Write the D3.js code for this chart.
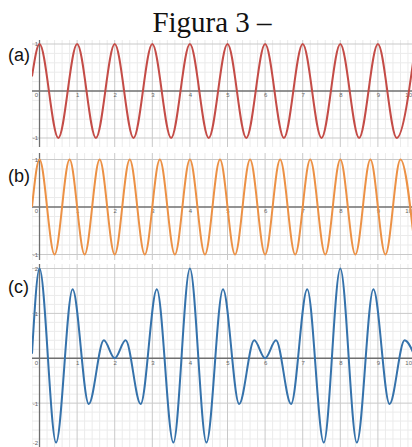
<!DOCTYPE html>
<html>
<head>
<meta charset="utf-8">
<script src="https://cdn.jsdelivr.net/npm/d3@7"></script>
<style>
  body { margin: 0; background: #fff; }
  svg { display: block; }
</style>
</head>
<body>
<svg id="fig" width="412" height="447"></svg>
<script>
// values: extrema of each wave (x, y)
var xTicks = [0, 1, 2, 3, 4, 5, 6, 7, 8, 9, 10];
var yTicksA = [-1, 1];
var yTicksB = [-1, 1];
var yTicksC = [-2, -1, 1, 2];

var waveA = [[-0.2, 0.31], [0, 1], [0.5, -1], [1, 1], [1.5, -1], [2, 1], [2.5, -1], [3, 1], [3.5, -1],
  [4, 1], [4.5, -1], [5, 1], [5.5, -1], [6, 1], [6.5, -1], [7, 1], [7.5, -1], [8, 1], [8.5, -1],
  [9, 1], [9.5, -1], [10, 1]];

var waveB = [[-0.2, 0], [0, 1], [0.4, -1], [0.8, 1], [1.2, -1], [1.6, 1], [2, -1], [2.4, 1], [2.8, -1],
  [3.2, 1], [3.6, -1], [4, 1], [4.4, -1], [4.8, 1], [5.2, -1], [5.6, 1], [6, -1], [6.4, 1], [6.8, -1],
  [7.2, 1], [7.6, -1], [8, 1], [8.4, -1], [8.8, 1], [9.2, -1], [9.6, 1], [10, -1]];

var waveC = [[-0.2, 0.1], [0, 2], [0.44, -1.88], [0.88, 1.54], [1.31, -1.02], [1.71, 0.4], [2, 0],
  [2.29, 0.4], [2.69, -1.02], [3.12, 1.54], [3.56, -1.88], [4, 2], [4.44, -1.88], [4.88, 1.54],
  [5.31, -1.02], [5.71, 0.4], [6, 0], [6.29, 0.4], [6.69, -1.02], [7.12, 1.54], [7.56, -1.88],
  [8, 2], [8.44, -1.88], [8.88, 1.54], [9.31, -1.02], [9.71, 0.4], [10, 0]];

var svg = d3.select('#fig');
var W = 412;

svg.append('text')
  .attr('x', 212).attr('y', 32)
  .attr('text-anchor', 'middle')
  .style('font-family', '"Liberation Serif", "Times New Roman", serif')
  .style('font-size', '29px')
  .attr('fill', '#111')
  .text('Figura 3 –');

var x = d3.scaleLinear().domain([-0.2, 10]).range([32, 415.5]);

var panels = [
  { label: '(a)', data: waveA, color: '#c44c47', yDomain: [-1, 1], yRange: [138, 44], top: 40, bottom: 147, yTicks: yTicksA, labelY: 61 },
  { label: '(b)', data: waveB, color: '#ec9145', yDomain: [-1, 1], yRange: [254.5, 159.5], top: 153, bottom: 260, yTicks: yTicksB, labelY: 182 },
  { label: '(c)', data: waveC, color: '#3572ab', yDomain: [-2, 2], yRange: [448, 268.5], top: 264, bottom: 447, yTicks: yTicksC, labelY: 293 }
];

var minorX = d3.range(-1, 52).map(function(i) { return +(i * 0.2).toFixed(1); });

panels.forEach(function(p, k) {
  var y = d3.scaleLinear().domain(p.yDomain).range(p.yRange);
  var g = svg.append('g');
  var clipId = 'clip' + k;

  svg.append('clipPath').attr('id', clipId)
    .append('rect')
    .attr('x', x.range()[0]).attr('y', p.top)
    .attr('width', W - x.range()[0]).attr('height', p.bottom - p.top);

  var plot = g.append('g').attr('clip-path', 'url(#' + clipId + ')');

  var yLo = Math.floor(y.invert(p.bottom) / 0.2) - 1;
  var yHi = Math.ceil(y.invert(p.top) / 0.2) + 1;
  var minorY = d3.range(yLo, yHi + 1).map(function(i) { return +(i * 0.2).toFixed(1); });

  function isMajor(v) { return Math.abs(v - Math.round(v)) < 1e-6; }

  // minor grid
  plot.selectAll('line.vminor')
    .data(minorX.filter(function(v) { return !isMajor(v); }))
    .enter().append('line')
    .attr('x1', function(d) { return x(d); }).attr('x2', function(d) { return x(d); })
    .attr('y1', p.top).attr('y2', p.bottom)
    .attr('stroke', '#ebebeb').attr('stroke-width', 1);

  plot.selectAll('line.hminor')
    .data(minorY.filter(function(v) { return !isMajor(v); }))
    .enter().append('line')
    .attr('y1', function(d) { return y(d); }).attr('y2', function(d) { return y(d); })
    .attr('x1', x.range()[0]).attr('x2', W)
    .attr('stroke', '#ebebeb').attr('stroke-width', 1);

  // major grid
  plot.selectAll('line.vmajor')
    .data(minorX.filter(function(v) { return isMajor(v) && v !== 0; }))
    .enter().append('line')
    .attr('x1', function(d) { return x(d); }).attr('x2', function(d) { return x(d); })
    .attr('y1', p.top).attr('y2', p.bottom)
    .attr('stroke', '#c9c9c9').attr('stroke-width', 1);

  plot.selectAll('line.hmajor')
    .data(minorY.filter(function(v) { return isMajor(v) && v !== 0; }))
    .enter().append('line')
    .attr('y1', function(d) { return y(d); }).attr('y2', function(d) { return y(d); })
    .attr('x1', x.range()[0]).attr('x2', W)
    .attr('stroke', '#c9c9c9').attr('stroke-width', 1);

  // axes lines
  plot.append('line')
    .attr('x1', x.range()[0]).attr('x2', W)
    .attr('y1', y(0)).attr('y2', y(0))
    .attr('stroke', '#6f6f6f').attr('stroke-width', 1.3);
  plot.append('line')
    .attr('x1', x(0)).attr('x2', x(0))
    .attr('y1', p.top).attr('y2', p.bottom)
    .attr('stroke', '#6f6f6f').attr('stroke-width', 1.3);

  // tick labels
  var xa = plot.append('g')
    .attr('transform', 'translate(0,' + y(0) + ')')
    .call(d3.axisBottom(x).tickValues(xTicks).tickSize(0).tickPadding(2).tickFormat(function(d) { return String(d); }));
  xa.select('.domain').remove();
  xa.selectAll('text')
    .style('font-family', '"Liberation Sans", Arial, sans-serif')
    .style('font-size', '6px')
    .attr('fill', '#666')
    .attr('text-anchor', function(d) { return d === 10 ? 'end' : 'middle'; })
    .attr('dx', function(d) { return d === 0 ? -3.5 : (d === 10 ? W - x(10) - 0.5 : 0); });

  // y labels are drawn outside the clip so the bottom one can be nudged up
  var ya = g.append('g')
    .attr('transform', 'translate(' + x(0) + ',0)')
    .call(d3.axisLeft(y).tickValues(p.yTicks).tickSize(0).tickPadding(1.5).tickFormat(function(d) { return String(d); }));
  ya.select('.domain').remove();
  ya.selectAll('text')
    .style('font-family', '"Liberation Sans", Arial, sans-serif')
    .style('font-size', '6px')
    .attr('fill', '#666')
    .attr('y', function(d) { return y(d) > p.bottom - 4 ? -(y(d) - p.bottom + 4) : 0; });

  // wave
  var line = d3.line()
    .x(function(d) { return x(d[0]); })
    .y(function(d) { return y(d[1]); })
    .curve(d3.curveMonotoneX);

  plot.append('path')
    .datum(p.data)
    .attr('d', line)
    .attr('fill', 'none')
    .attr('stroke', p.color)
    .attr('stroke-width', 2)
    .attr('stroke-linejoin', 'round');

  svg.append('text')
    .attr('x', 8).attr('y', p.labelY)
    .style('font-family', '"Liberation Sans", Arial, sans-serif')
    .style('font-size', '18px')
    .attr('fill', '#111')
    .text(p.label);
});
</script>
</body>
</html>
